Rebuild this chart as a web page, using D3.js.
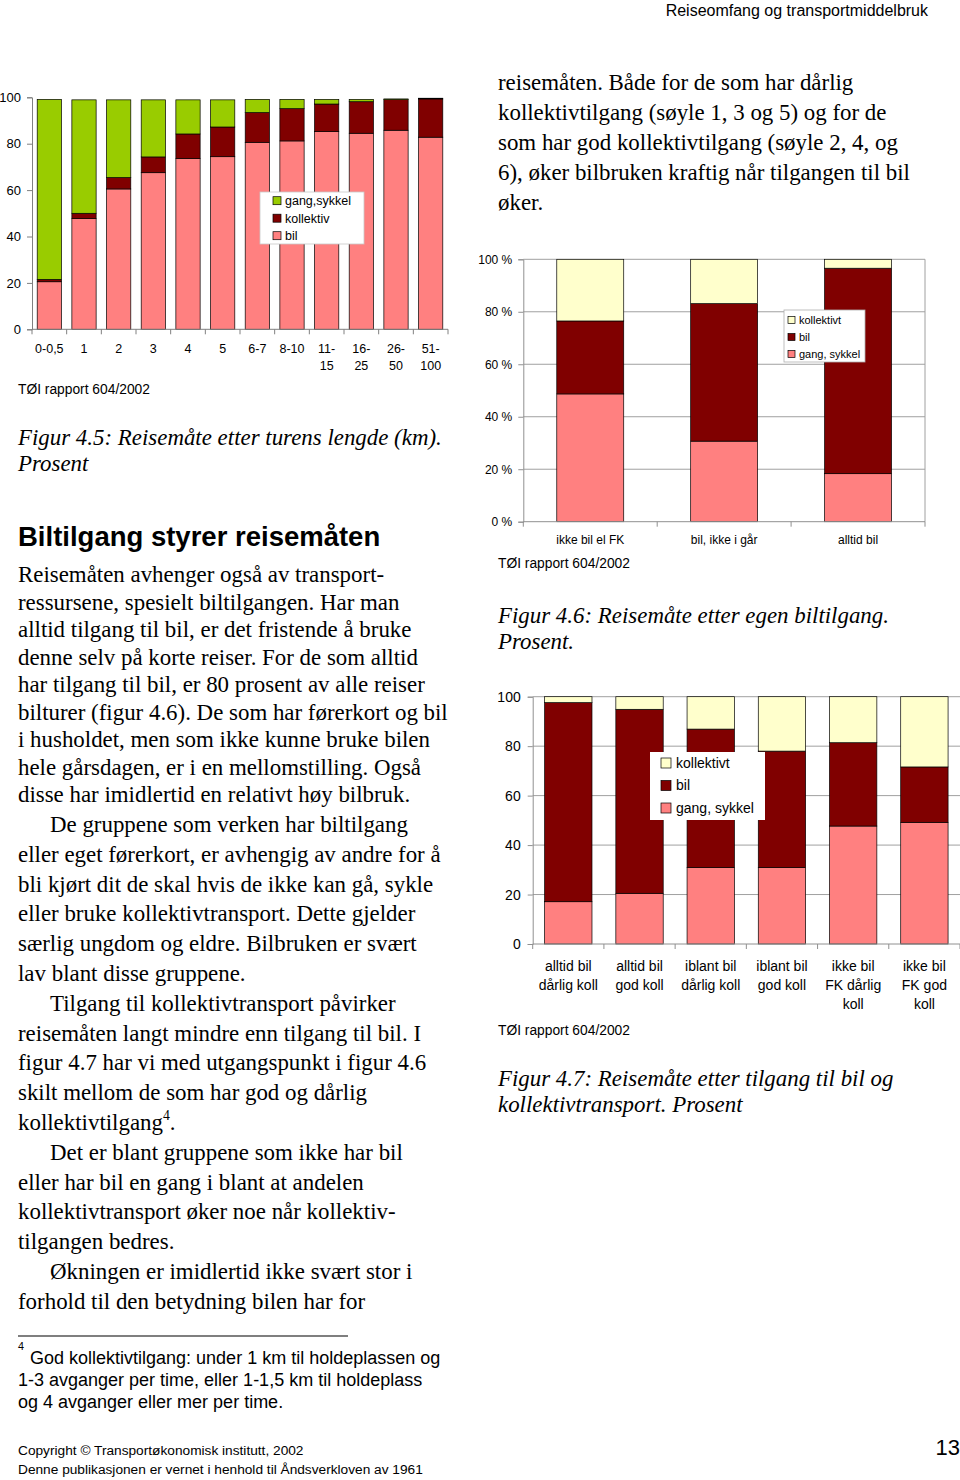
<!DOCTYPE html>
<html><head><meta charset="utf-8">
<script src="https://cdn.jsdelivr.net/npm/d3@7"></script>
<style>
html,body{margin:0;padding:0;background:#fff;}
svg{display:block;}
</style></head>
<body>
<svg id="page" width="960" height="1480"></svg>
<script>
// ---------- DATA ----------
// Figur 4.5
const f45Categories = ["0-0,5","1","2","3","4","5","6-7","8-10","11-|15","16-|25","26-|50","51-|100"];
const f45Bil       = [20.5,47.7,60.5,67.5,73.6,74.4,80.6,81.2,85.2,84.5,85.8,82.8];
const f45Kollektiv = [1.0, 2.3, 4.9, 6.8,10.6,12.8,12.8,13.9,11.9,13.6,13.2,16.5];
const f45Gang      = [77.6,48.9,33.5,24.6,14.7,11.7,5.7, 4.0, 2.0, 1.0, 0.3, 0.3];
const f45Ticks = [0,20,40,60,80,100];

// Figur 4.6
const f46Categories = ["ikke bil el FK","bil, ikke i går","alltid bil"];
const f46Gang       = [48.7,30.7,18.3];
const f46Bil        = [27.8,52.4,78.3];
const f46Kollektivt = [23.5,16.9,3.4];
const f46Ticks = [0,20,40,60,80,100];

// Figur 4.7
const f47Categories = ["alltid bil|dårlig koll","alltid bil|god koll","iblant bil|dårlig koll","iblant bil|god koll","ikke bil|FK dårlig|koll","ikke bil|FK god|koll"];
const f47Gang       = [17.1,20.5,30.9,30.9,47.7,49.2];
const f47Bil        = [80.5,74.4,56.0,47.1,33.7,22.4];
const f47Kollektivt = [2.4, 5.1,13.1,22.0,18.6,28.4];
const f47Ticks = [0,20,40,60,80,100];

const COL = {pink:"#FF8080", dark:"#800000", green:"#99CC00", yellow:"#FFFFCC"};

const svg = d3.select("#page");
const SANS = "'Liberation Sans', Arial, sans-serif";
const SERIF = "'Liberation Serif', 'Times New Roman', serif";

// ---------- generic stacked chart ----------
function stackedChart(opt){
  const g = svg.append("g");
  const rows = opt.categories.map((c,i)=>{
    const r = {cat:c};
    opt.series.forEach(s=>{ r[s.key]=s.values[i]; });
    return r;
  });
  const keys = opt.series.map(s=>s.key);
  const stacked = d3.stack().keys(keys)(rows);
  const x = d3.scaleBand().domain(opt.categories).range(opt.xRange)
      .paddingInner(opt.pad).paddingOuter(opt.pad/2);
  const y = d3.scaleLinear().domain([0,100]).range(opt.yRange);

  if(opt.grid){
    g.append("g").selectAll("line").data(opt.ticks.filter(t=>t>0)).join("line")
      .attr("x1",opt.xRange[0]).attr("x2",opt.xRange[1])
      .attr("y1",d=>y(d)).attr("y2",d=>y(d))
      .attr("stroke","#a0a0a0").attr("stroke-width",1);
  }
  if(opt.rightBorder){
    g.append("line").attr("x1",opt.xRange[1]).attr("x2",opt.xRange[1])
      .attr("y1",y(0)).attr("y2",y(100)).attr("stroke","#a0a0a0");
  }
  g.append("g").selectAll("g").data(stacked).join("g")
    .attr("fill",(d,i)=>opt.series[i].color)
    .selectAll("rect").data(d=>d).join("rect")
    .attr("x",d=>x(d.data.cat)).attr("width",x.bandwidth())
    .attr("y",d=>y(d[1])).attr("height",d=>Math.max(0,y(d[0])-y(d[1])))
    .attr("stroke","#000").attr("stroke-width",0.7);

  const ya = d3.axisLeft(y).tickValues(opt.ticks).tickSize(5).tickPadding(opt.yPad)
     .tickFormat(d=>opt.yFmt(d));
  const yg = g.append("g").attr("transform",`translate(${opt.xRange[0]},0)`).call(ya);
  yg.select(".domain").attr("stroke",opt.axisColor);
  yg.selectAll(".tick line").attr("stroke",opt.axisColor);
  yg.selectAll("text").attr("font-family",SANS).attr("font-size",opt.yFont).attr("fill","#000");

  const step = x.step();
  g.append("line").attr("x1",opt.xRange[0]).attr("x2",opt.xRange[1])
    .attr("y1",y(0)).attr("y2",y(0)).attr("stroke",opt.axisColor);
  const bounds = d3.range(opt.categories.length+1).map(i=>opt.xRange[0]+i*step);
  g.append("g").selectAll("line").data(bounds).join("line")
    .attr("x1",d=>d).attr("x2",d=>d).attr("y1",y(0)).attr("y2",y(0)+5)
    .attr("stroke",opt.axisColor);
  const xl = g.append("g").selectAll("text").data(opt.categories).join("text")
    .attr("x",d=>x(d)+x.bandwidth()/2).attr("y",opt.xLabelY)
    .attr("text-anchor","middle").attr("font-family",SANS).attr("font-size",opt.xFont);
  xl.each(function(d){
    const t=d3.select(this);
    d.split("|").forEach((line,i)=>{
      t.append("tspan").attr("x",x(d)+x.bandwidth()/2).attr("dy",i===0?0:opt.xLineH).text(line);
    });
  });

  const L = opt.legend;
  const lg = g.append("g");
  lg.append("rect").attr("x",L.x).attr("y",L.y).attr("width",L.w).attr("height",L.h)
    .attr("fill","#fff").attr("stroke",L.stroke||"none").attr("stroke-width",0.8);
  L.items.forEach((it,i)=>{
    const cy = L.y + L.first + i*L.gap;
    lg.append("rect").attr("x",L.x+L.sx).attr("y",cy-L.sq/2).attr("width",L.sq).attr("height",L.sq)
      .attr("fill",it.color).attr("stroke","#000").attr("stroke-width",0.7);
    lg.append("text").attr("x",L.x+L.sx+L.sq+L.tx).attr("y",cy).attr("dy","0.35em")
      .attr("font-family",SANS).attr("font-size",L.font).text(it.label);
  });
  return g;
}

stackedChart({
  categories:f45Categories,
  series:[{key:"bil",values:f45Bil,color:COL.pink},
          {key:"kollektiv",values:f45Kollektiv,color:COL.dark},
          {key:"gang",values:f45Gang,color:COL.green}],
  xRange:[32,448], yRange:[329.3,97.3], pad:0.3, grid:false, rightBorder:false,
  ticks:f45Ticks, yFmt:d=>d, yPad:6, yFont:13, axisColor:"#808080",
  xLabelY:353, xLineH:17, xFont:12.5,
  legend:{x:260,y:192,w:104,h:52,stroke:"#c8c8c8",first:8.7,gap:17.5,sx:13,sq:8,tx:4,font:12.5,
    items:[{label:"gang,sykkel",color:COL.green},{label:"kollektiv",color:COL.dark},{label:"bil",color:COL.pink}]}
});

stackedChart({
  categories:f46Categories,
  series:[{key:"gang",values:f46Gang,color:COL.pink},
          {key:"bil",values:f46Bil,color:COL.dark},
          {key:"kollektivt",values:f46Kollektivt,color:COL.yellow}],
  xRange:[523.3,925], yRange:[521.7,259.3], pad:0.5, grid:true, rightBorder:true,
  ticks:f46Ticks, yFmt:d=>d+" %", yPad:6, yFont:12, axisColor:"#909090",
  xLabelY:544, xLineH:15, xFont:12,
  legend:{x:784,y:310,w:81,h:52,stroke:"#b0b0b0",first:10,gap:17,sx:4,sq:7,tx:4,font:11,
    items:[{label:"kollektivt",color:COL.yellow},{label:"bil",color:COL.dark},{label:"gang, sykkel",color:COL.pink}]}
});

stackedChart({
  categories:f47Categories,
  series:[{key:"gang",values:f47Gang,color:COL.pink},
          {key:"bil",values:f47Bil,color:COL.dark},
          {key:"kollektivt",values:f47Kollektivt,color:COL.yellow}],
  xRange:[532.7,960], yRange:[944,696.7], pad:0.335, grid:true, rightBorder:false,
  ticks:f47Ticks, yFmt:d=>d, yPad:7, yFont:14, axisColor:"#909090",
  xLabelY:971, xLineH:19, xFont:14,
  legend:{x:650,y:752,w:115,h:68,stroke:"none",first:11,gap:22.5,sx:11,sq:10,tx:5,font:14,
    items:[{label:"kollektivt",color:COL.yellow},{label:"bil",color:COL.dark},{label:"gang, sykkel",color:COL.pink}]}
});

// ---------- page text ----------
function textLines(lines, x, y0, lh, font, size, opts={}){
  const g = svg.append("g");
  lines.forEach((ln,i)=>{
    const t = g.append("text").attr("x", x + (ln.indent||0)).attr("y", y0+i*lh).attr("dy","0.35em")
      .attr("font-family",font).attr("font-size",size)
      .attr("font-style",opts.italic?"italic":"normal")
      .attr("font-weight",opts.bold?"bold":"normal")
      .attr("text-anchor",opts.anchor||"start");
    if(ln.sup!==undefined){
      t.append("tspan").text(ln.text);
      t.append("tspan").attr("font-size",size*0.6).attr("dy","-0.7em").text(ln.sup);
      if(ln.tail) t.append("tspan").attr("dy","0.42em").text(ln.tail);
    } else t.text(ln.text);
  });
}
const L = s=>({text:s});
const I = s=>({text:s,indent:32});
const BODY = 22.9;

textLines([L("Reiseomfang og transportmiddelbruk")],928,10,0,SANS,16,{anchor:"end"});

textLines(["reisemåten. Både for de som har dårlig","kollektivtilgang (søyle 1, 3 og 5) og for de",
  "som har god kollektivtilgang (søyle 2, 4, og","6), øker bilbruken kraftig når tilgangen til bil","øker."].map(L),
  498,82,30,SERIF,BODY);

textLines([L("TØI rapport 604/2002")],18,389,0,SANS,13.8);
textLines([L("TØI rapport 604/2002")],498,563,0,SANS,13.8);
textLines([L("TØI rapport 604/2002")],498,1030,0,SANS,13.8);

textLines(["Figur 4.5: Reisemåte etter turens lengde (km).","Prosent"].map(L),18,437,26,SERIF,BODY,{italic:true});
textLines(["Figur 4.6: Reisemåte etter egen biltilgang.","Prosent."].map(L),498,615,26,SERIF,BODY,{italic:true});
textLines(["Figur 4.7: Reisemåte etter tilgang til bil og","kollektivtransport. Prosent"].map(L),498,1078,26,SERIF,BODY,{italic:true});

textLines([L("Biltilgang styrer reisemåten")],18,536,0,SANS,27.5,{bold:true});

textLines(["Reisemåten avhenger også av transport-","ressursene, spesielt biltilgangen. Har man",
 "alltid tilgang til bil, er det fristende å bruke","denne selv på korte reiser. For de som alltid",
 "har tilgang til bil, er 80 prosent av alle reiser","bilturer (figur 4.6). De som har førerkort og bil",
 "i husholdet, men som ikke kunne bruke bilen","hele gårsdagen, er i en mellomstilling. Også",
 "disse har imidlertid en relativt høy bilbruk."].map(L),18,574,27.5,SERIF,BODY);
textLines([I("De gruppene som verken har biltilgang"),L("eller eget førerkort, er avhengig av andre for å"),
 L("bli kjørt dit de skal hvis de ikke kan gå, sykle"),L("eller bruke kollektivtransport. Dette gjelder"),
 L("særlig ungdom og eldre. Bilbruken er svært"),L("lav blant disse gruppene."),
 I("Tilgang til kollektivtransport påvirker"),L("reisemåten langt mindre enn tilgang til bil. I"),
 L("figur 4.7 har vi med utgangspunkt i figur 4.6"),L("skilt mellom de som har god og dårlig"),
 {text:"kollektivtilgang",sup:"4",tail:"."},
 I("Det er blant gruppene som ikke har bil"),L("eller har bil en gang i blant at andelen"),
 L("kollektivtransport øker noe når kollektiv-"),L("tilgangen bedres."),
 I("Økningen er imidlertid ikke svært stor i"),L("forhold til den betydning bilen har for")],
 18,824,29.8,SERIF,BODY);

svg.append("line").attr("x1",18).attr("x2",348).attr("y1",1336).attr("y2",1336).attr("stroke","#000").attr("stroke-width",1.2);
textLines([{text:"",sup:"4"}],18,1358,0,SANS,18);
textLines(["God kollektivtilgang: under 1 km til holdeplassen og"].map(L),30,1358,0,SANS,18);
textLines(["1-3 avganger per time, eller 1-1,5 km til holdeplass","og 4 avganger eller mer per time."].map(L),18,1380,21.5,SANS,18);

textLines(["Copyright © Transportøkonomisk institutt, 2002","Denne publikasjonen er vernet i henhold til Åndsverkloven av 1961"].map(L),18,1450,19,SANS,13.7);
textLines([L("13")],960,1447,0,SANS,22,{anchor:"end"});
</script>
</body></html>
